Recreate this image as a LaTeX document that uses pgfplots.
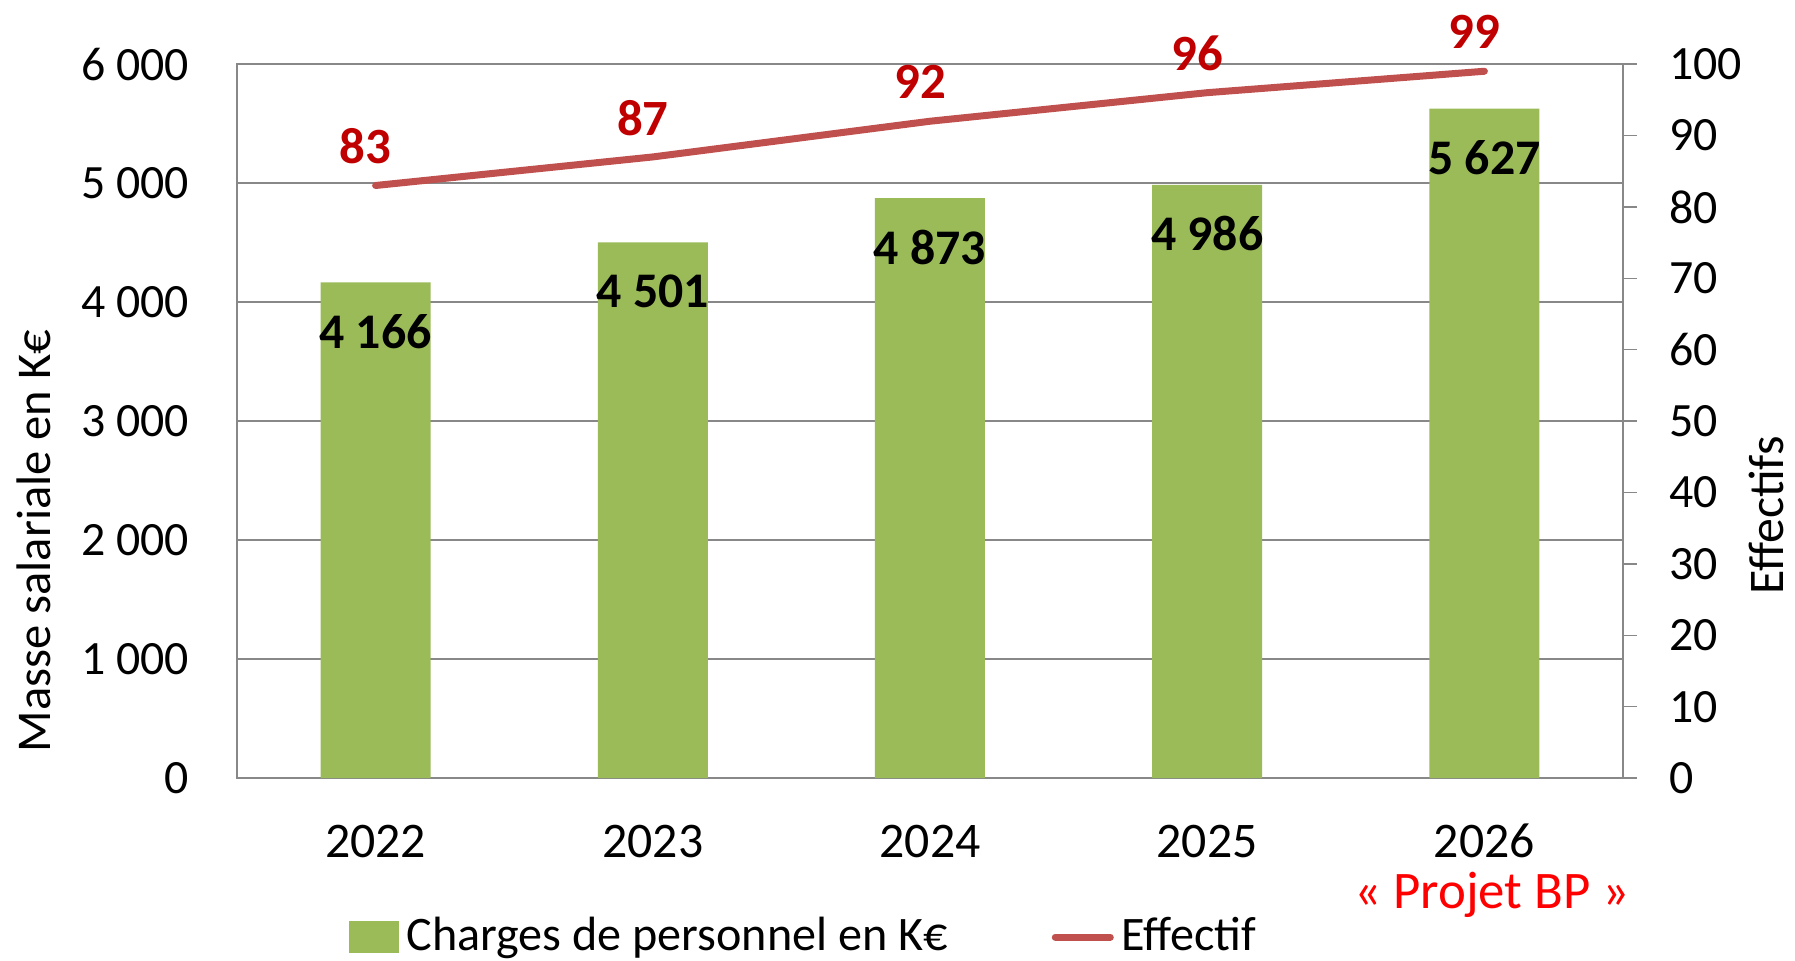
\documentclass[border=0pt]{standalone}
\usepackage{fontspec}
\setmainfont{Carlito}
\usepackage{pgfplots}
\pgfplotsset{compat=1.18}
\definecolor{bargreen}{HTML}{9BBB59}
\definecolor{linered}{HTML}{C0504D}
\definecolor{labred}{HTML}{C00000}
\definecolor{axgray}{HTML}{888888}
\begin{document}
\fontsize{47}{56}\selectfont
\begin{tikzpicture}[x=1bp,y=1bp]
\path (0,0) rectangle (1795,960);
\begin{axis}[
  at={(237bp,182bp)}, anchor=south west,
  scale only axis, width=1386bp, height=714bp,
  xmin=-0.5, xmax=4.5, ymin=0, ymax=6000,
  ybar, bar width=110bp,
  axis line style={axgray, line width=1.5bp},
  xtick={0,1,2,3,4}, xticklabels={2022,2023,2024,2025,2026},
  ytick={0,1000,2000,3000,4000,5000,6000},
  yticklabels={0,1 000,2 000,3 000,4 000,5 000,6 000},
  major tick length=0pt,
  ymajorgrids, grid style={axgray, line width=1.5bp},
  xticklabel style={anchor=center, inner sep=0pt, yshift=-63bp, font=\fontsize{50}{60}\selectfont},
  yticklabel style={anchor=east, inner sep=0pt, xshift=-48bp, font=\fontsize{48}{58}\selectfont},
  nodes near coords, point meta=explicit symbolic,
  every node near coord/.append style={font=\fontsize{50}{60}\selectfont\bfseries, text=black, anchor=center, yshift=-49bp},
]
\addplot[fill=bargreen, draw=none] coordinates {(0,4166) [4 166] (1,4501) [4 501] (2,4873) [4 873] (3,4986) [4 986] (4,5627) [5 627]};
\end{axis}
\begin{axis}[
  at={(237bp,182bp)}, anchor=south west,
  scale only axis, width=1386bp, height=714bp,
  xmin=-0.5, xmax=4.5, ymin=0, ymax=100,
  axis y line*=right, axis x line=none,
  axis line style={axgray, line width=1.5bp},
  ytick={0,10,...,100},
  tick align=outside, major tick length=14bp,
  ytick style={axgray, line width=1.5bp},
  yticklabel style={anchor=west, inner sep=0pt, xshift=32bp, font=\fontsize{48}{58}\selectfont},
  /pgf/number format/assume math mode=true,
  nodes near coords, point meta=explicit symbolic,
  every node near coord/.append style={font=\fontsize{51}{60}\selectfont\bfseries, text=labred, anchor=center, yshift=39bp, xshift=-10bp},
  legend columns=2,
  legend style={at={(axis description cs:0,0)}, anchor=west, xshift=112bp, yshift=-159bp,
    draw=none, fill=none, inner sep=0pt, outer sep=0pt,
    nodes={inner sep=0pt}, font=\fontsize{48.3}{58}\selectfont,
    /tikz/every odd column/.style={column sep=8bp},
    /tikz/every even column/.style={column sep=104bp}},
  legend cell align=left,
]
\addlegendimage{legend image code/.code={\fill[bargreen] (0bp,-15bp) rectangle (49bp,16bp);}}
\addlegendentry{Charges de personnel en K€}
\addplot[linered, line width=7bp, line cap=round, legend image code/.code={\draw[linered, line width=7bp] (0bp,0bp) -- (55bp,0bp);}] coordinates {(0,83) [83] (1,87) [87] (2,92) [92] (3,96) [96] (4,99) [99]};
\addlegendentry{Effectif}
\end{axis}
\node[rotate=90, inner sep=0pt, font=\fontsize{48.7}{58}\selectfont] at (34,419) {Masse salariale en K€};
\node[rotate=90, inner sep=0pt, font=\fontsize{50}{60}\selectfont] at (1766,445) {Effectifs};
\node[inner sep=0pt, font=\fontsize{53}{62}\selectfont, text={rgb,255:red,255;green,0;blue,0}] at (1492,65) {« Projet BP »};
\end{tikzpicture}
\end{document}
